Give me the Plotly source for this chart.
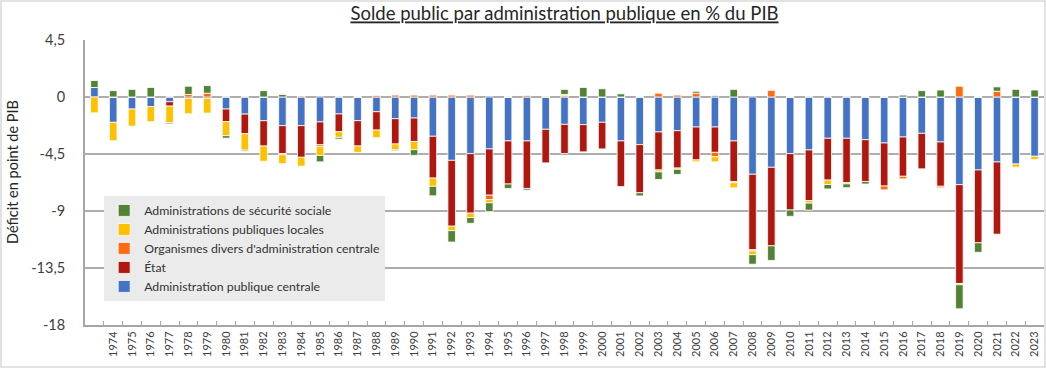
import plotly.graph_objects as go

years = [str(y) for y in range(1973, 2024)]
tick_labels = [""] + [str(y) for y in range(1974, 2024)]

apu_centrale = [0.75, -2.0, -0.95, -0.75, -0.37, 0, 0, -0.95, -1.35, -1.87,
                -2.26, -2.26, -1.97, -1.34, -1.87, -1.16, -1.71, -1.66, -3.1, -5.0,
                -4.47, -4.1, -3.47, -3.47, -2.55, -2.16, -2.18, -2.0, -3.47, -3.76,
                -2.76, -2.66, -2.37, -2.37, -3.47, -6.1, -5.55, -4.47, -4.18, -3.26,
                -3.26, -3.37, -3.63, -3.16, -2.87, -3.55, -6.92, -5.76, -5.13, -5.29,
                -4.68]
etat = [0, 0, 0, 0, -0.35, -0.12, -0.12, -1.0, -1.55, -2.0,
        -2.2, -2.5, -1.8, -1.4, -2.0, -1.45, -2.0, -1.85, -3.3, -5.2,
        -4.7, -3.65, -3.4, -3.75, -2.65, -2.3, -2.15, -2.1, -3.6, -3.8,
        -3.0, -2.95, -2.6, -2.0, -3.2, -5.95, -6.2, -4.45, -4.0, -3.3,
        -3.5, -3.3, -3.4, -3.1, -2.8, -3.5, -7.8, -5.75, -5.7, 0,
        0]
odac = [0, 0, 0, 0, 0, 0.2, 0.3, 0, 0, 0,
        -0.1, 0.1, -0.15, 0, 0, 0.15, 0.15, 0.15, 0.15, 0.15,
        0.15, -0.35, 0, 0.15, 0, 0.1, 0, 0, 0, 0,
        0.3, 0.15, 0.3, -0.35, -0.1, -0.1, 0.55, 0, 0, 0,
        0, 0, -0.3, -0.2, 0, -0.12, 0.85, 0, 0.45, 0,
        0]
apul = [-1.25, -1.45, -1.35, -1.2, -1.3, -1.2, -1.15, -1.1, -1.3, -1.2,
        -0.7, -0.7, -0.7, -0.45, -0.5, -0.6, -0.45, -0.65, -0.65, -0.35,
        -0.35, -0.25, 0, 0, 0.1, 0.1, 0, 0, 0, 0,
        -0.15, -0.1, -0.15, -0.4, -0.4, -0.3, 0, 0, -0.2, -0.35,
        -0.1, 0, 0, 0, 0, 0, -0.1, 0, 0, -0.25,
        -0.25]
asso = [0.55, 0.5, 0.6, 0.75, -0.1, 0.65, 0.6, -0.2, -0.08, 0.5,
        0.2, 0, -0.5, -0.13, 0, 0, -0.08, -0.45, -0.75, -0.9,
        -0.45, -0.7, -0.35, -0.13, 0, 0.4, 0.75, 0.65, 0.25, -0.25,
        -0.6, -0.4, 0.15, 0.1, 0.6, -0.75, -1.15, -0.5, -0.55, -0.35,
        -0.3, -0.2, 0, 0.15, 0.5, 0.55, -1.9, -0.75, 0.35, 0.6,
        0.55]

series = [
    ("Administration publique centrale", apu_centrale, "#4472C4"),
    ("État", etat, "#B0180F"),
    ("Organismes divers d'administration centrale", odac, "#FF6A10"),
    ("Administrations publiques locales", apul, "#FFC000"),
    ("Administrations de sécurité sociale", asso, "#548235"),
]

y_ticks = [4.5, 0, -4.5, -9, -13.5, -18]
y_tick_text = ["4,5", "0", "-4,5", "-9", "-13,5", "-18"]

fig = go.Figure()
for name, vals, col in series:
    fig.add_trace(go.Bar(
        x=years, y=vals, name=name,
        marker=dict(color=col, line=dict(color="white", width=0.8)),
    ))

font_family = "Lato, 'Open Sans', sans-serif"
PW, PH = 959, 285

fig.update_layout(
    width=1046, height=368,
    barmode="relative",
    bargap=0.6,
    paper_bgcolor="white",
    plot_bgcolor="white",
    margin=dict(l=85, r=2, t=40, b=43, autoexpand=False),
    font=dict(family=font_family, color="#404040"),
    title=dict(
        text="<u>Solde public par administration publique en % du PIB</u>",
        xref="paper", x=0.5, xanchor="center", y=0.962, yanchor="middle",
        font=dict(size=18.5, color="#262626", family=font_family),
    ),
    legend=dict(
        traceorder="reversed",
        x=0.02, y=0.453, xanchor="left", yanchor="top",
        bgcolor="#EBEBEB",
        font=dict(size=12.3, color="#333333"),
        itemwidth=30,
        tracegroupgap=0,
    ),
    showlegend=True,
)

fig.update_xaxes(
    type="category",
    tickmode="array", tickvals=years, ticktext=tick_labels,
    tickangle=-90,
    tickfont=dict(size=11, color="#404040"),
    showline=True, linecolor="#A6A6A6", linewidth=2,
    ticks="inside", ticklen=4, tickcolor="#A6A6A6", tickwidth=1,
    tickson="boundaries",
    showgrid=False,
)
fig.update_yaxes(
    range=[-18, 4.5],
    tickmode="array", tickvals=y_ticks, ticktext=y_tick_text,
    tickfont=dict(size=14.5, color="#404040"),
    showline=True, linecolor="#A6A6A6", linewidth=2,
    showgrid=True, gridcolor="#ADADAD", gridwidth=1.5,
    zeroline=True, zerolinecolor="#ADADAD", zerolinewidth=1.5,
    ticks="", ticklabelstandoff=15,
)

fig.add_annotation(
    text="Déficit en point de PIB", textangle=-90,
    xref="paper", yref="paper", x=(12 - 85) / PW, y=(325 - 172) / PH,
    xanchor="center", yanchor="middle", showarrow=False,
    font=dict(size=14.5, color="#262626", family=font_family),
)

# outer frame of the chart
fig.add_shape(type="rect", xref="paper", yref="paper",
              x0=-84/PW, x1=1+1/PW, y0=-42/PH, y1=1+39/PH,
              line=dict(color="#D9D9D9", width=1.5), fillcolor="rgba(0,0,0,0)")

fig.write_html("out.html", config={"displayModeBar": False},
               post_script="document.body.style.margin='0';")
